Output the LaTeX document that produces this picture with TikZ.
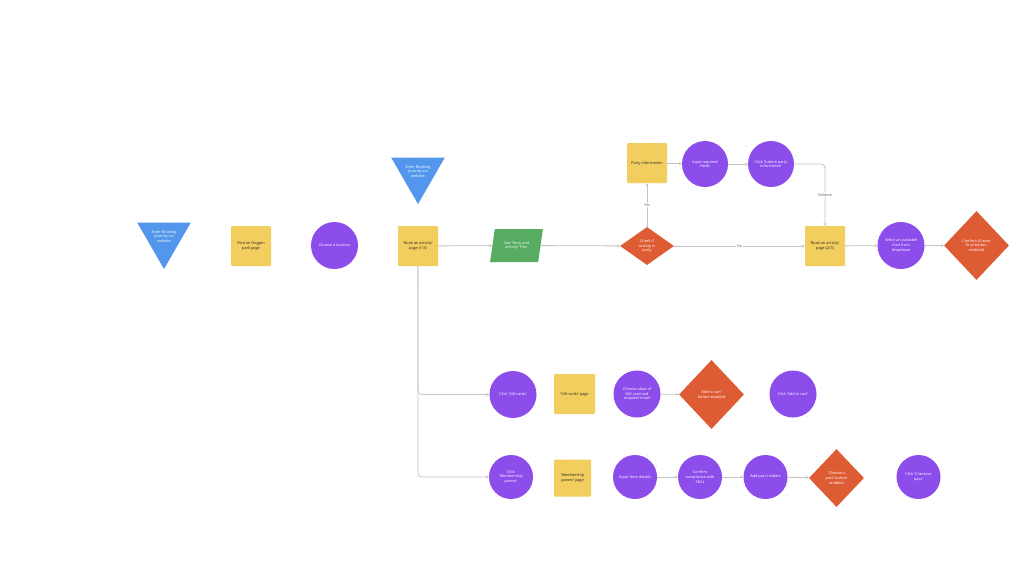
\documentclass[tikz,border=0pt]{standalone}
\usepackage{fontspec}
\setmainfont{Open Sans}
\usepackage{tikz}
\usetikzlibrary{shapes,shapes.geometric,arrows.meta}
\usepackage{xcolor}
\definecolor{tripblue}{RGB}{82,151,236}
\definecolor{stickyyellow}{RGB}{242,206,94}
\definecolor{actpurple}{RGB}{140,77,235}
\definecolor{decorange}{RGB}{222,92,52}
\definecolor{pagegreen}{RGB}{88,172,98}
\definecolor{linegray}{RGB}{196,196,196}
\definecolor{dotgray}{RGB}{200,200,200}

\begin{document}
\begin{tikzpicture}
		[x=1pt,y=-1pt,
		every node/.style={font=\fontsize{3.8}{4.6}\selectfont,align=center,inner sep=0pt},
		tri/.style={regular polygon,regular polygon sides=3,shape border rotate=180,
			minimum size=62pt,fill=tripblue,
			label={[text=white,yshift=1.5pt]center:{Enter Booking\\journey via\\website}}},
		box/.style={rectangle,rounded corners=1pt,minimum size=40pt,fill=stickyyellow,text=black!85},
		circ/.style={circle,minimum size=46pt,fill=actpurple,text=white},
		dia/.style={diamond,fill=decorange,text=white},
		para/.style={trapezium,trapezium left angle=72,trapezium right angle=108,
			trapezium stretches=true,minimum width=53pt,minimum height=33pt,fill=pagegreen,text=white},
		lbl/.style={fill=white,inner sep=1pt,text=black!60},
		flow/.style={draw=linegray,line width=0.8pt,-{Stealth[length=2.8pt,width=2.8pt]}}]
		\fill[white] (0,0) rectangle (1024,576);
		\useasboundingbox (0,0) rectangle (1024,576);
		% dotted canvas
		\foreach \i in {6,16,...,1020}
			\foreach \j in {6,16,...,572}
				\fill[dotgray] (\i,\j) circle (0.5pt);
		% top line
		\node[tri] (tri1) at (164,238) {};
		\node[box] (find) at (251,246) {Find an Oxygen\\park page};
		\node[circ,minimum size=47pt] (choose) at (334.5,245.5) {Choose a location};
		\node[tri] (tri2) at (418,173) {};
		\node[box] (book1) at (418,246) {`Book an activity'\\page (1/3)};
		\node[para] (tiles) at (516.5,245.5) {See `Term and\\activity' Tiles};
		\node[dia,minimum width=54pt,minimum height=38pt] (ispart) at (647,246) {Check if\\activity is\\party};
		\node[box] (partyinfo) at (647,163) {Party information};
		\node[circ] (fields) at (705,164) {Input required\\fields};
		\node[circ] (submit) at (771,164) {Click `Submit party\\information'};
		\node[box] (book2) at (825,246) {`Book an activity'\\page (2/3)};
		\node[circ,minimum size=47pt] (timesel) at (901,245.5) {Select an available\\time from\\dropdown};
		\node[dia,minimum width=65pt,minimum height=69pt] (confirm) at (976.5,245.5) {Confirm (Create\\final button\\enabled)};
		% gift cards
		\node[circ,minimum size=47pt] (giftclick) at (513,394.5) {Click `Gift cards'};
		\node[box,minimum width=41pt] (giftpage) at (574.5,394) {`Gift cards' page};
		\node[circ,minimum size=47pt] (giftvalue) at (637,394) {Choose value of\\Gift card and\\recipient email};
		\node[dia,minimum width=65pt,minimum height=69pt] (addcart) at (711.5,394.5) {`Add to cart'\\button enabled};
		\node[circ,minimum size=47pt] (cartclick) at (793,394) {Click `Add to cart'};
		% membership passes
		\node[circ,minimum size=44pt] (memclick) at (511,477) {Click\\`Membership\\passes'};
		\node[box,minimum size=37pt] (mempage) at (572.5,478) {`Membership\\passes' page};
		\node[circ,minimum size=44pt] (formin) at (635,477) {Input form details};
		\node[circ,minimum size=44pt] (terms) at (700,477) {Confirm\\compliance with\\T\&Cs};
		\node[circ,minimum size=44pt] (holders) at (765.5,477) {Add pass holders};
		\node[dia,minimum width=55pt,minimum height=58pt] (checkout) at (836.5,478) {`Checkout\\pass' button\\enabled};
		\node[circ,minimum size=44pt] (checkclick) at (918.5,477) {Click `Checkout\\pass'};
		\draw[flow] (book1) -- (tiles);
		\draw[flow] (tiles) -- (ispart);
		\draw[flow] (ispart) -- node[lbl] {No} (book2);
		\draw[flow] (ispart) -- node[lbl] {Yes} (partyinfo);
		\draw[flow] (partyinfo) -- (fields);
		\draw[flow] (fields) -- (submit);
		\draw[flow,rounded corners=4pt] (submit.east) -| node[lbl,pos=0.75] {Validate} (book2.north);
		\draw[flow] (book2) -- (timesel);
		\draw[flow] (timesel) -- (confirm);
		\draw[flow,rounded corners=4pt] (book1.south) |- (giftclick.west);
		\draw[flow,rounded corners=4pt] (book1.south) |- (memclick.west);
		\draw[flow] (giftvalue) -- (addcart);
		\draw[flow] (formin) -- (terms);
		\draw[flow] (terms) -- (holders);
		\draw[flow] (holders) -- (checkout);
\end{tikzpicture}
\end{document}
